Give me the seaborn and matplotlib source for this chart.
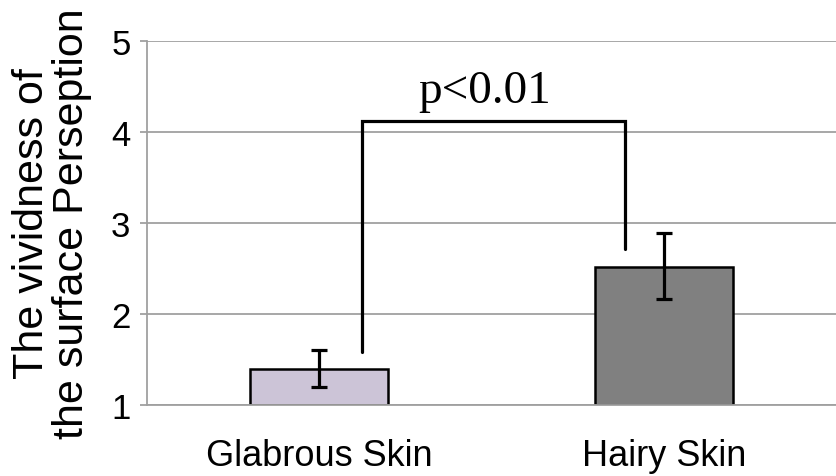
import matplotlib
matplotlib.use("Agg")
import matplotlib.pyplot as plt
import seaborn as sns
import pandas as pd

sns.set_style("white")
plt.rcParams['font.family'] = ['Liberation Sans', 'DejaVu Sans']
plt.rcParams['text.color'] = 'black'
plt.rcParams['xtick.color'] = 'black'
plt.rcParams['ytick.color'] = 'black'
plt.rcParams['axes.labelcolor'] = 'black'

# values
categories = ["Glabrous Skin", "Hairy Skin"]
means = [1.39, 2.52]
err_low = [1.20, 2.16]
err_high = [1.60, 2.89]
bar_colors = ["#ccc1da", "#808080"]

# significance bracket
bracket_x = [0.123, 0.886]
bracket_bottom = [1.58, 2.71]
bracket_top = 4.12
p_label = "p<0.01"

df = pd.DataFrame({"group": categories, "score": means})

fig = plt.figure(figsize=(8.36, 4.77), dpi=100)
ax = fig.add_axes([0.176, 0.149, 0.824, 0.763])

sns.barplot(data=df, x="group", y="score", hue="group", palette=bar_colors,
            width=0.4, edgecolor="black", linewidth=1.8, legend=False, ax=ax)
for p in ax.patches:
    # bars start at the axis floor (1)
    h = p.get_height()
    p.set_y(1)
    p.set_height(h - 1)

xs = list(range(len(categories)))
yerr = [[m - lo for m, lo in zip(means, err_low)],
        [hi - m for m, hi in zip(means, err_high)]]
ax.errorbar(xs, means, yerr=yerr, fmt="none", ecolor="black",
            elinewidth=2.3, capsize=5.5, capthick=2.3, zorder=5)

ax.plot([bracket_x[0], bracket_x[0], bracket_x[1], bracket_x[1]],
        [bracket_bottom[0], bracket_top, bracket_top, bracket_bottom[1]],
        color="black", lw=2.3, solid_joinstyle="miter", zorder=6)
ax.text(0.48, 4.33, p_label, ha="center", va="baseline", fontsize=34,
        family=["Liberation Serif", "DejaVu Serif"])

ax.set_xlim(-0.5, 1.5)
ax.set_ylim(1, 5)
ax.set_yticks([1, 2, 3, 4, 5])
ax.yaxis.grid(True, color="#a0a0a0", lw=1.3)
ax.set_axisbelow(True)
for s in ["top", "right"]:
    ax.spines[s].set_visible(False)
for s in ["left", "bottom"]:
    ax.spines[s].set_color("#a0a0a0")
    ax.spines[s].set_linewidth(1.3)
ax.tick_params(axis="y", length=5, width=1.3, color="#a0a0a0", pad=7,
               labelsize=25, left=True, labelcolor="black")
ax.tick_params(axis="x", length=0, pad=24, labelsize=26, labelcolor="black")
ax.set_xlabel("")
ax.set_ylabel("The vividness of\nthe surface Perseption", fontsize=31,
              linespacing=1.0, labelpad=14)

plt.savefig("out.png", dpi=100)
plt.close()
